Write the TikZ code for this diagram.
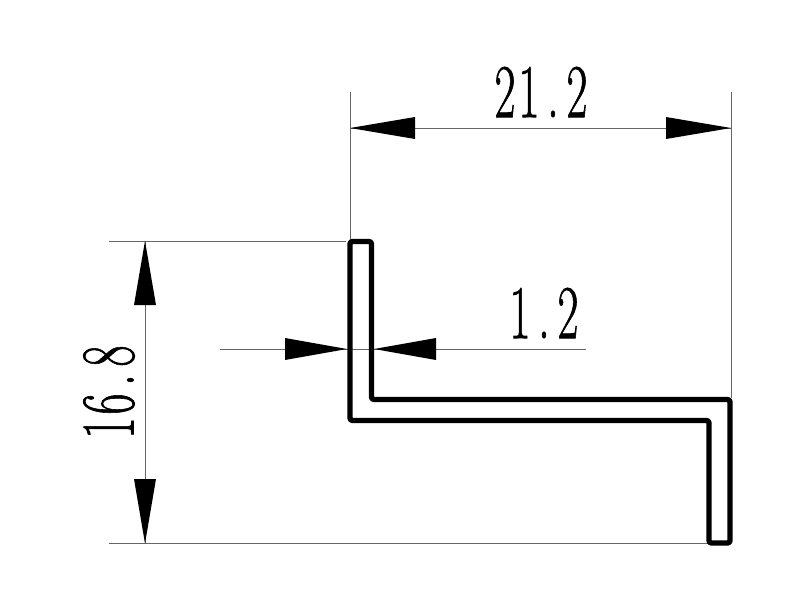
\documentclass[tikz,border=0pt]{standalone}
\usepackage{graphicx}
\usepackage{fontspec}
\newfontfamily\dimfont{Latin Modern Roman}[FakeBold=1.2]
\newcommand{\cellch}[1]{\makebox[40pt]{#1}}
\newcommand{\dimlabel}[1]{\scalebox{0.6}[1]{\dimfont\fontsize{76}{76}\selectfont #1}}
\tikzset{
  thinline/.style={draw=black!60, line width=0.8pt},
  profile/.style={draw=black, line width=5.4pt, line join=round, rounded corners=2.5pt},
  arrowhead/.style={fill=black, draw=none},
  dimtext/.style={inner sep=0pt, outer sep=0pt, text=black}
}
\begin{document}
\begin{tikzpicture}[x=1pt,y=-1pt]
\useasboundingbox (0,0) rectangle (800,600);
\fill[white] (0,0) rectangle (800,600);
% extension and dimension lines
\draw[thinline] (350,92) -- (350,240);
\draw[thinline] (731,92) -- (731,398);
\draw[thinline] (350,128) -- (731,128);
\draw[thinline] (109,241) -- (346,241);
\draw[thinline] (109,543.5) -- (708,543.5);
\draw[thinline] (145,241) -- (145,543.5);
\draw[thinline] (220,349) -- (586,349);
% profile
\draw[profile] (350,241.5) -- (371.5,241.5) -- (371.5,399.5) -- (730,399.5) -- (730,543) -- (709,543) -- (709,420.5) -- (350,420.5) -- cycle;
% arrowheads
\fill[arrowhead] (350,128) -- (415,117) -- (415,139) -- cycle;
\fill[arrowhead] (731,128) -- (666,117) -- (666,139) -- cycle;
\fill[arrowhead] (145,241) -- (134,305) -- (156,305) -- cycle;
\fill[arrowhead] (145,543.5) -- (134,479) -- (156,479) -- cycle;
\fill[arrowhead] (347,349) -- (285,338) -- (285,360) -- cycle;
\fill[arrowhead] (374,349) -- (436,338) -- (436,360) -- cycle;
% labels
\node[dimtext] (w) at (541,92) {\dimlabel{\cellch{2}\cellch{1}\cellch{.}\cellch{2}}};
\node[dimtext] (t) at (544,313) {\dimlabel{\cellch{1}\cellch{.}\cellch{2}}};
\node[dimtext, rotate=90] (h) at (109,392) {\dimlabel{\cellch{1}\cellch{6}\cellch{.}\cellch{8}}};
\end{tikzpicture}
\end{document}
